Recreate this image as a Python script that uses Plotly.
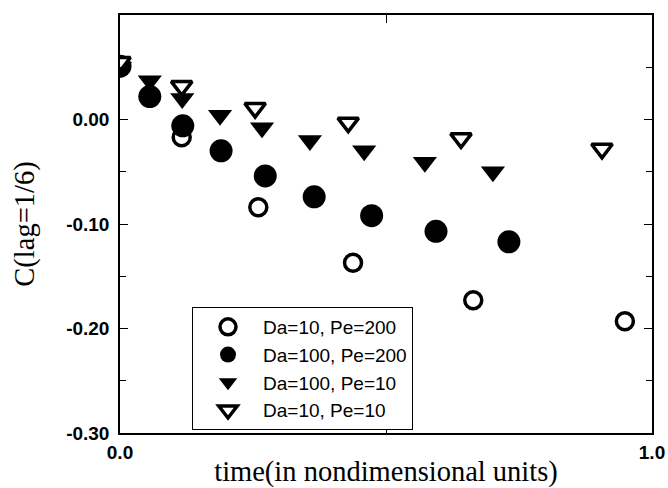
import plotly.graph_objects as go

# Data
t_open_circ = [0.0, 0.116, 0.26, 0.438, 0.664, 0.949]
c_open_circ = [0.05, -0.017, -0.084, -0.137, -0.173, -0.193]

t_fill_circ = [0.0, 0.056, 0.118, 0.19, 0.273, 0.365, 0.473, 0.594, 0.731]
c_fill_circ = [0.051, 0.022, -0.006, -0.030, -0.054, -0.074, -0.092, -0.107, -0.117]

t_fill_tri = [0.0, 0.056, 0.117, 0.188, 0.267, 0.357, 0.459, 0.573, 0.701]
c_fill_tri = [0.05, 0.037, 0.020, 0.004, -0.008, -0.020, -0.030, -0.041, -0.050]

t_open_tri = [0.0, 0.116, 0.254, 0.429, 0.641, 0.906]
c_open_tri = [0.055, 0.032, 0.011, -0.003, -0.018, -0.028]

series_names = ["Da=10, Pe=200", "Da=100, Pe=200", "Da=100, Pe=10", "Da=10, Pe=10"]

y_tickvals = [0.0, -0.1, -0.2, -0.3]
y_ticktext = ["0.00", "-0.10", "-0.20", "-0.30"]
x_tickvals = [0.0, 1.0]
x_ticktext = ["0.0", "1.0"]

fig = go.Figure()
fig.add_trace(go.Scatter(
    x=t_open_circ, y=c_open_circ, mode="markers", name=series_names[0],
    marker=dict(symbol="circle", size=17, color="white",
                line=dict(color="black", width=3.5))))
fig.add_trace(go.Scatter(
    x=t_fill_circ, y=c_fill_circ, mode="markers", name=series_names[1],
    marker=dict(symbol="circle", size=23, color="black",
                line=dict(color="black", width=0))))
fig.add_trace(go.Scatter(
    x=t_fill_tri, y=c_fill_tri, mode="markers", name=series_names[2],
    marker=dict(symbol="triangle-down", size=21, color="black",
                line=dict(color="black", width=0))))
fig.add_trace(go.Scatter(
    x=t_open_tri, y=c_open_tri, mode="markers", name=series_names[3],
    marker=dict(symbol="triangle-down", size=18, color="white",
                line=dict(color="black", width=3.5))))

title_font = dict(family="Liberation Serif, Times New Roman", size=28.5, color="black")

fig.update_layout(
    width=668, height=488,
    margin=dict(l=120, r=16, t=15, b=55, autoexpand=False),
    paper_bgcolor="white", plot_bgcolor="white",
    showlegend=True,
    legend=dict(
        x=(192 - 120) / 532, y=(433 - 307) / 418, xanchor="left", yanchor="top",
        bgcolor="white", bordercolor="black", borderwidth=1,
        font=dict(family="Liberation Sans, Arial", size=19, color="black"),
        itemwidth=60, tracegroupgap=0,
    ),
    xaxis=dict(
        range=[0, 1], showline=True, linecolor="black", linewidth=1.5, mirror="allticks",
        showgrid=False, zeroline=False,
        tickmode="array", tickvals=x_tickvals, ticktext=x_ticktext,
        ticks="inside", ticklen=8, tickcolor="black",
        minor=dict(dtick=0.5, tick0=0, ticks="inside", ticklen=8, tickcolor="black", showgrid=False),
        tickfont=dict(family="Liberation Sans, Arial", size=19, color="black", weight="bold"),
        ticklabelstandoff=1,
        title=dict(text="time(in nondimensional units)", font=title_font, standoff=8),
    ),
    yaxis=dict(
        range=[-0.3, 0.1], showline=True, linecolor="black", linewidth=1.5, mirror="allticks",
        showgrid=False, zeroline=False,
        tickmode="array", tickvals=y_tickvals, ticktext=y_ticktext,
        ticks="inside", ticklen=8, tickcolor="black",
        minor=dict(dtick=0.05, tick0=0, ticks="inside", ticklen=6, tickcolor="black", showgrid=False),
        tickfont=dict(family="Liberation Sans, Arial", size=19, color="black", weight="bold"),
        ticklabelstandoff=5,
        title=dict(text="C(lag=1/6)", font=title_font, standoff=23),
    ),
)

fig.write_html("out.html")
